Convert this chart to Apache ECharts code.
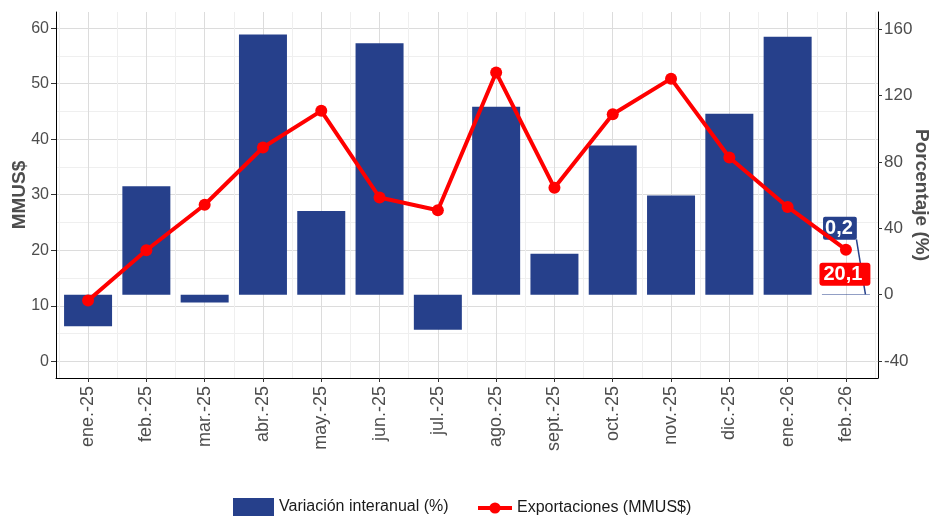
<!DOCTYPE html>
<html>
<head>
<meta charset="utf-8">
<script src="https://cdn.jsdelivr.net/npm/echarts@6/dist/echarts.min.js"></script>
<style>
  html, body { margin: 0; padding: 0; background: #fff; }
  #main { width: 933px; height: 516px; }
</style>
</head>
<body>
<div id="main"></div>
<script>
// datos
var meses = ['ene.-25', 'feb.-25', 'mar.-25', 'abr.-25', 'may.-25', 'jun.-25', 'jul.-25',
             'ago.-25', 'sept.-25', 'oct.-25', 'nov.-25', 'dic.-25', 'ene.-26', 'feb.-26'];
var exportaciones = [10.95, 20.0, 28.2, 38.5, 45.1, 29.5, 27.2, 52.0, 31.25, 44.5, 50.9, 36.7, 27.8, 20.1];
var variacion = [-19.1, 65.4, -4.65, 157.0, 50.5, 151.6, -21.1, 113.3, 24.7, 90.0, 59.8, 109.1, 155.6, 0.2];
var ticksMMUS = [0, 10, 20, 30, 40, 50, 60];
var minorMMUS = [5, 15, 25, 35, 45, 55];
var ticksPct = [-40, 0, 40, 80, 120, 160];

var FONT = '"Liberation Sans", Arial, sans-serif';
var AZUL = '#26408B';
var ROJO = '#FF0000';

// eje secundario: % = (MMUS$ - 12) * 3.35
var minL = -3.0, maxL = 62.9;
var SEC = 3.35, BASE = 12;
var minR = (minL - BASE) * SEC, maxR = (maxL - BASE) * SEC;

var idx = meses.map(function (m, i) { return i; });
var medios = [];
for (var k = -1; k < meses.length; k++) medios.push(k + 0.5);

function coma(v) { return v.toFixed(1).replace('.', ','); }

var n = meses.length - 1;
var datosLinea = exportaciones.map(function (v, i) { return [i, v]; });
datosLinea[n] = {
  value: [n, exportaciones[n]],
  label: {
    show: true, position: 'bottom', distance: 7, offset: [-1, 0],
    formatter: function (p) { return coma(p.value[1]); },
    color: '#fff', fontSize: 20, fontWeight: 'bold', fontFamily: FONT,
    backgroundColor: ROJO, padding: [2, 8, 1, 4], borderRadius: 3
  }
};

var chart = echarts.init(document.getElementById('main'));
chart.setOption({
  animation: false,
  backgroundColor: '#fff',
  textStyle: { fontFamily: FONT },
  grid: { left: 56, right: 55, top: 12, bottom: 138, containLabel: false, outerBoundsMode: 'none' },
  legend: [
    {
      data: ['Variación interanual (%)'], left: 228, top: 493,
      icon: 'rect', itemWidth: 41, itemHeight: 18,
      textStyle: { fontSize: 16, color: '#1a1a1a', fontFamily: FONT }
    },
    {
      data: ['Exportaciones (MMUS$)'], left: 471, top: 495,
      itemWidth: 34, itemHeight: 14,
      lineStyle: { width: 4 },
      textStyle: { fontSize: 16, color: '#1a1a1a', fontFamily: FONT }
    }
  ],
  xAxis: [
    {
      type: 'value', min: -0.55, max: 13.55,
      axisLine: { show: true, onZero: false, lineStyle: { color: '#000', width: 1 } },
      axisTick: { show: true, length: 4, customValues: idx, lineStyle: { color: '#333' } },
      axisLabel: {
        customValues: idx, rotate: 90, margin: 8, fontSize: 18, color: '#4d4d4d', fontFamily: FONT,
        formatter: function (v) { return meses[Math.round(v)]; }
      },
      splitLine: { show: true, lineStyle: { color: '#dcdcdc', width: 1 } }
    },
    {
      type: 'value', min: -0.55, max: 13.55, position: 'bottom',
      axisLine: { show: false, onZero: false }, axisLabel: { show: false },
      axisTick: { show: false, customValues: medios },
      splitLine: { show: true, lineStyle: { color: '#efefef', width: 1 } }
    }
  ],
  yAxis: [
    {
      type: 'value', min: minL, max: maxL, position: 'left',
      name: 'MMUS$', nameLocation: 'middle', nameGap: 27, nameRotate: 90, nameMoveOverlap: false,
      nameTextStyle: { fontSize: 19, fontWeight: 'bold', color: '#4d4d4d', fontFamily: FONT },
      axisLine: { show: true, onZero: false, lineStyle: { color: '#000', width: 1 } },
      axisTick: { show: true, length: 5, customValues: ticksMMUS, lineStyle: { color: '#333' } },
      axisLabel: { customValues: ticksMMUS, margin: 7, fontSize: 16, color: '#4d4d4d', fontFamily: FONT },
      splitLine: { show: true, lineStyle: { color: '#dcdcdc', width: 1 } }
    },
    {
      type: 'value', min: minR, max: maxR, position: 'right',
      name: 'Porcentaje (%)', nameLocation: 'middle', nameGap: 34, nameRotate: -90, nameMoveOverlap: false,
      nameTextStyle: { fontSize: 19, fontWeight: 'bold', color: '#4d4d4d', fontFamily: FONT },
      axisLine: { show: true, onZero: false, lineStyle: { color: '#000', width: 1 } },
      axisTick: { show: true, length: 4, customValues: ticksPct, lineStyle: { color: '#333' } },
      axisLabel: { customValues: ticksPct, margin: 6, fontSize: 17, color: '#4d4d4d', fontFamily: FONT },
      splitLine: { show: false }
    },
    {
      type: 'value', min: minL, max: maxL, position: 'left',
      axisLine: { show: false, onZero: false }, axisLabel: { show: false },
      axisTick: { show: false, customValues: minorMMUS },
      splitLine: { show: true, lineStyle: { color: '#efefef', width: 1 } }
    }
  ],
  series: [
    {
      name: 'Variación interanual (%)', type: 'bar',
      xAxisIndex: 0, yAxisIndex: 1, z: 2,
      barWidth: 48,
      itemStyle: { color: AZUL },
      data: variacion.map(function (v, i) { return [i, v]; })
    },
    {
      // etiqueta del ultimo valor de la variacion, con su linea guia
      type: 'custom', xAxisIndex: 0, yAxisIndex: 1, z: 3, silent: true,
      data: [[n, variacion[n]]],
      renderItem: function (params, api) {
        var p = api.coord([api.value(0), api.value(1)]);
        return {
          type: 'group',
          children: [
            {
              type: 'line',
              shape: { x1: p[0] + 10.5, y1: p[1] - 55, x2: p[0] + 19.5, y2: p[1] },
              style: { stroke: AZUL, lineWidth: 1.5 }
            },
            {
              type: 'text', x: p[0] - 6, y: p[1] - 66,
              style: {
                text: coma(api.value(1)), fill: '#fff', fontSize: 20, fontWeight: 'bold', fontFamily: FONT,
                backgroundColor: AZUL, padding: [2, 4, 1, 2], borderRadius: 2,
                align: 'center', verticalAlign: 'middle'
              }
            }
          ]
        };
      }
    },
    {
      name: 'Exportaciones (MMUS$)', type: 'line',
      xAxisIndex: 0, yAxisIndex: 0, z: 4,
      symbol: 'circle', symbolSize: 12,
      lineStyle: { color: ROJO, width: 4 },
      itemStyle: { color: ROJO },
      data: datosLinea
    }
  ]
});
</script>
</body>
</html>
